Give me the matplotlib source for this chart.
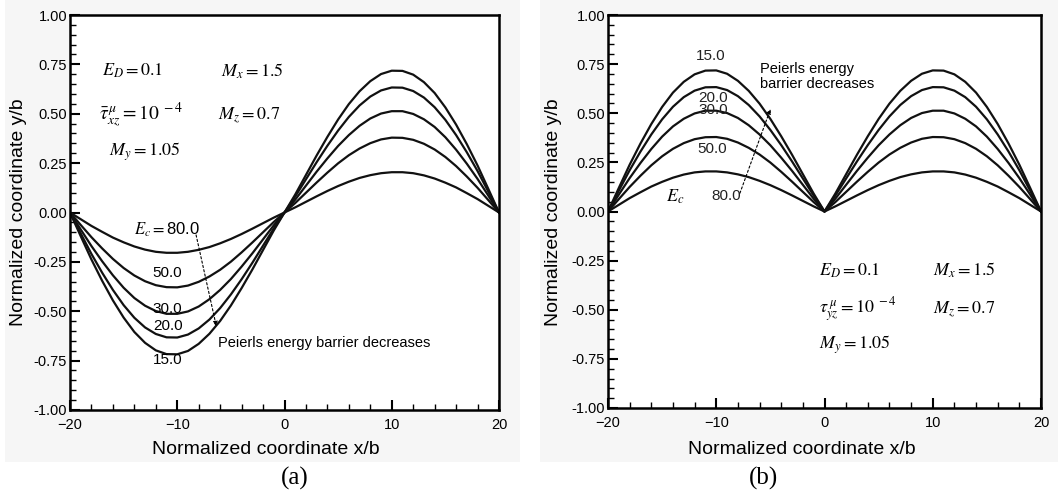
import numpy as np
import matplotlib.pyplot as plt
from matplotlib.patches import Rectangle

# x positions of one lobe (0..20, step 1)
x_half = np.arange(0, 21)

# lobe heights, one list per Ec value
Ec_labels = ["15.0", "20.0", "30.0", "50.0", "80.0"]
lobe_15 = [0, .091, .190, .289, .383, .471, .549, .614, .665, .701, .718, .717, .698, .660, .605, .532, .445, .346, .238, .120, 0]
lobe_20 = [0, .081, .168, .255, .338, .415, .484, .542, .587, .618, .633, .632, .615, .582, .533, .469, .392, .305, .210, .106, 0]
lobe_30 = [0, .065, .136, .207, .274, .337, .392, .439, .476, .501, .513, .513, .499, .472, .433, .381, .318, .247, .170, .086, 0]
lobe_50 = [0, .048, .100, .152, .202, .249, .290, .324, .351, .370, .379, .378, .368, .348, .319, .281, .235, .182, .125, .063, 0]
lobe_80 = [0, .026, .054, .082, .109, .134, .156, .175, .189, .199, .204, .204, .199, .188, .172, .151, .127, .098, .068, .034, 0]
lobes = [lobe_15, lobe_20, lobe_30, lobe_50, lobe_80]

plt.rcParams['font.family'] = ['Liberation Sans', 'DejaVu Sans']
plt.rcParams['mathtext.fontset'] = 'stix'

fig = plt.figure(figsize=(10.61, 5.0), dpi=100)

# faint grey panel backgrounds
fig.patches.append(Rectangle((5/1061, 1-462/500), 515/1061, 462/500, transform=fig.transFigure,
                             facecolor='#f6f6f6', edgecolor='none', zorder=-10))
fig.patches.append(Rectangle((540/1061, 1-462/500), 518/1061, 462/500, transform=fig.transFigure,
                             facecolor='#f6f6f6', edgecolor='none', zorder=-10))

ax1 = fig.add_axes([70/1061, 1-410/500, 429/1061, 395/500])
ax2 = fig.add_axes([608/1061, 1-408/500, 433/1061, 393/500])

x_full = np.concatenate([-x_half[::-1], x_half[1:]])
for lobe in lobes:
    h = np.array(lobe)
    ya = np.concatenate([-h[::-1], h[1:]])      # (a): antisymmetric
    yb = np.concatenate([h[::-1], h[1:]])       # (b): symmetric
    ax1.plot(x_full, ya, color='#111111', lw=1.6)
    ax2.plot(x_full, yb, color='#111111', lw=1.6)

for ax in (ax1, ax2):
    ax.set_facecolor('white')
    ax.set_xlim(-20, 20)
    ax.set_ylim(-1, 1)
    ax.set_xticks([-20, -10, 0, 10, 20])
    ax.set_xticks(np.arange(-20, 21, 2), minor=True)
    ax.set_yticks(np.arange(-1, 1.01, 0.25))
    ax.set_yticks(np.arange(-1, 1.01, 0.05), minor=True)
    ax.set_yticklabels(["%.2f" % v for v in np.arange(-1, 1.01, 0.25)])
    ax.tick_params(which='major', direction='in', length=7, width=1.5, labelsize=10.5, pad=2)
    ax.tick_params(axis='x', which='major', pad=6)
    ax.tick_params(which='minor', direction='in', length=4, width=1.0)
    ax.tick_params(top=False, right=False, which='both')
    for s in ax.spines.values():
        s.set_linewidth(1.8)

# axis labels and panel letters
fig.text(266/1061, 1-449/500, "Normalized coordinate x/b", ha='center', va='center', fontsize=14)
fig.text(802/1061, 1-449/500, "Normalized coordinate x/b", ha='center', va='center', fontsize=14)
fig.text(19/1061, 1-212/500, "Normalized coordinate y/b", rotation=90, ha='center', va='center', fontsize=14)
fig.text(553/1061, 1-212/500, "Normalized coordinate y/b", rotation=90, ha='center', va='center', fontsize=14)
fig.text(295/1061, 1-478/500, "(a)", ha='center', va='center', fontsize=18, family='Liberation Serif')
fig.text(763/1061, 1-478/500, "(b)", ha='center', va='center', fontsize=18, family='Liberation Serif')

# panel (a) annotations
mt = 13
ax1.text(-17.0, 0.715, r"$E_D = \mathrm{0.1}$", fontsize=mt, va='center')
ax1.text(-5.9, 0.715, r"$M_x = 1.5$", fontsize=mt, va='center')
ax1.text(-17.3, 0.49, r"$\bar{\tau}^{\,\mu}_{xz} = \mathrm{10}^{\ -4}$", fontsize=mt+1, va='center')
ax1.text(-6.2, 0.49, r"$M_z = 0.7$", fontsize=mt, va='center')
ax1.text(-16.4, 0.31, r"$M_y = 1.05$", fontsize=mt, va='center')
ax1.text(-14.0, -0.09, r"$E_c = $80.0", fontsize=mt-1, va='center')
for lab, yy in zip(["50.0", "30.0", "20.0", "15.0"], [-0.305, -0.49, -0.575, -0.745]):
    ax1.text(-10.9, yy, lab, fontsize=11, ha='center', va='center')
ax1.annotate("", xy=(-6.3, -0.59), xytext=(-8.3, -0.10),
             arrowprops=dict(arrowstyle='-|>', linestyle=(0, (2, 2)), lw=0.8, color='black',
                             mutation_scale=7))
ax1.text(-6.2, -0.66, "Peierls energy barrier decreases", fontsize=10.5, va='center')

# panel (b) annotations
for lab, xx, yy in zip(Ec_labels, [-10.5, -10.3, -10.3, -10.4, -9.1], [0.79, 0.58, 0.515, 0.32, 0.08]):
    ax2.text(xx, yy, lab, fontsize=11, ha='center', va='center', color='#222222')
ax2.text(-13.8, 0.075, r"$E_c$", fontsize=mt, ha='center', va='center')
ax2.annotate("", xy=(-4.9, 0.535), xytext=(-7.9, 0.08),
             arrowprops=dict(arrowstyle='-|>', linestyle=(0, (2, 2)), lw=0.8, color='black',
                             mutation_scale=7))
ax2.text(-6.0, 0.685, "Peierls energy\nbarrier decreases", fontsize=10.5, va='center', linespacing=1.1)
ax2.text(-0.5, -0.30, r"$E_D = 0.1$", fontsize=mt, va='center')
ax2.text(10.0, -0.30, r"$M_x = 1.5$", fontsize=mt, va='center')
ax2.text(-0.5, -0.50, r"$\tau^{\,\mu}_{yz} = 10^{\ -4}$", fontsize=mt, va='center')
ax2.text(10.0, -0.50, r"$M_z = 0.7$", fontsize=mt, va='center')
ax2.text(-0.5, -0.68, r"$M_y = 1.05$", fontsize=mt, va='center')

fig.savefig("out.png", dpi=100)
